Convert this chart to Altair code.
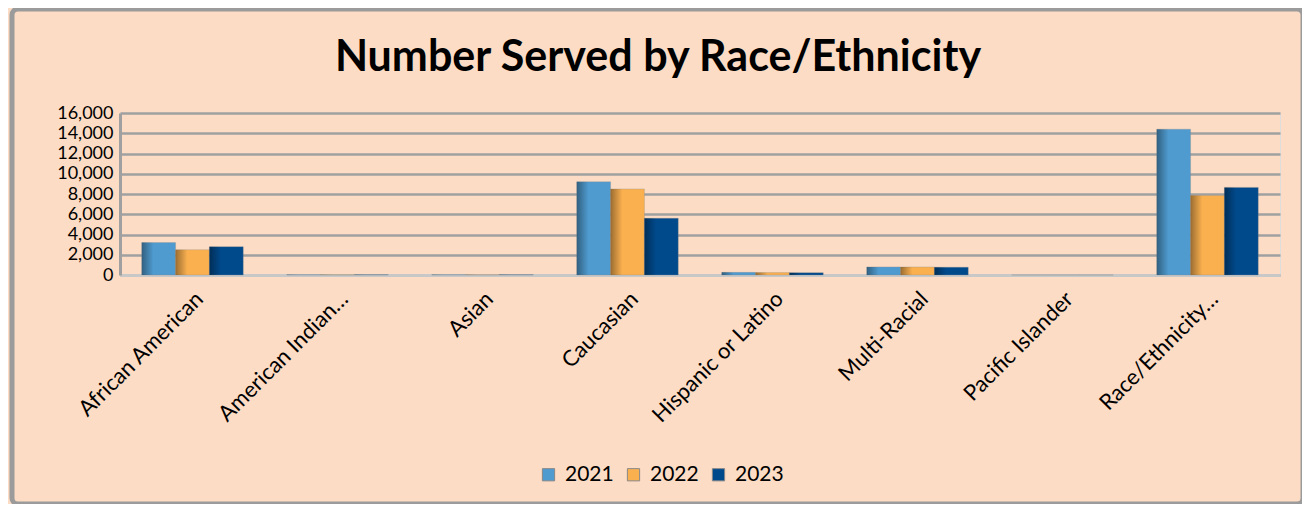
import altair as alt
import pandas as pd

categories = ["African American", "American Indian…", "Asian", "Caucasian",
              "Hispanic or Latino", "Multi-Racial", "Pacific Islander", "Race/Ethnicity…"]
years = ["2021", "2022", "2023"]
v2021 = [3200, 20, 30, 9200, 260, 800, 5, 14400]
v2022 = [2500, 25, 30, 8500, 240, 790, 5, 7850]
v2023 = [2800, 20, 25, 5600, 230, 770, 5, 8650]
colors = ["#4F9BD0", "#FBB04F", "#004A8C"]
y_ticks = [0, 2000, 4000, 6000, 8000, 10000, 12000, 14000, 16000]
title_text = "Number Served by Race/Ethnicity"

rows = []
for yr, vals in zip(years, [v2021, v2022, v2023]):
    for c, v in zip(categories, vals):
        rows.append({"category": c, "year": yr, "value": v})
df = pd.DataFrame(rows)

FONT = "Lato"
BG = "#FCDCC4"

x_enc = alt.X("category:N", sort=categories,
              scale=alt.Scale(paddingInner=0.3, paddingOuter=0.15),
              axis=alt.Axis(title=None, labelAngle=-45, labelAlign="right", labelBaseline="top",
                            labelFontSize=22, labelFont=FONT, labelColor="#000", labelPadding=13,
                            ticks=False, domainColor="#C8C8C8", domainWidth=3, labelLimit=300))
xo_enc = alt.XOffset("year:N", sort=years)
y_enc = alt.Y("value:Q", scale=alt.Scale(domain=[0, 16000], nice=False),
              axis=alt.Axis(title=None, values=y_ticks, format=",d", labelFontSize=18,
                            labelFont=FONT, labelColor="#000", labelPadding=7, ticks=False,
                            domainColor="#A0A0A0", domainWidth=3, gridColor="#A0A0A0",
                            gridWidth=2.5))

bars = alt.Chart(df).mark_bar(stroke="#8a8a8a", strokeWidth=0.5, strokeOpacity=0.6).encode(
    x=x_enc, xOffset=xo_enc, y=y_enc,
    color=alt.Color("year:N", sort=years, scale=alt.Scale(domain=years, range=colors),
                    legend=alt.Legend(title=None, orient="none", direction="horizontal",
                                      legendX=418, legendY=351, symbolType="square",
                                      symbolSize=150, symbolStrokeColor="#888",
                                      symbolStrokeWidth=1, labelFontSize=21, labelFont=FONT,
                                      labelColor="#000", columnPadding=9, labelOffset=6)),
)

shade = alt.Chart(df).mark_bar(
    fill=alt.Gradient(gradient="linear", x1=0, x2=1, y1=0, y2=0,
                      stops=[alt.GradientStop(color="rgba(0,0,0,0.38)", offset=0),
                             alt.GradientStop(color="rgba(0,0,0,0.0)", offset=0.35),
                             alt.GradientStop(color="rgba(0,0,0,0.0)", offset=1)])
).encode(x=x_enc, xOffset=xo_enc, y=y_enc)

frame = alt.Chart(pd.DataFrame({"k": [0]})).mark_rect(
    fill=None, stroke="#9B9B9B", strokeWidth=5, cornerRadius=6
).encode(x=alt.value(-108), x2=alt.value(1183), y=alt.value(-104), y2=alt.value(391))

title = alt.Chart(pd.DataFrame({"t": [title_text]})).mark_text(
    font=FONT, fontSize=43, fontWeight="bold", color="#000", align="center",
    baseline="alphabetic"
).encode(text="t:N", x=alt.value(538), y=alt.value(-42))

chart = alt.layer(frame, bars, shade, title).properties(
    width=1160, height=162,
    autosize=alt.AutoSizeParams(type="none"),
    padding={"left": 112, "top": 105, "right": 22, "bottom": 229},
    background=BG,
).configure_view(stroke="#A0A0A0", strokeWidth=2.5).configure(background=BG)

chart.save("out.html", embed_options={"renderer": "svg", "actions": False})
